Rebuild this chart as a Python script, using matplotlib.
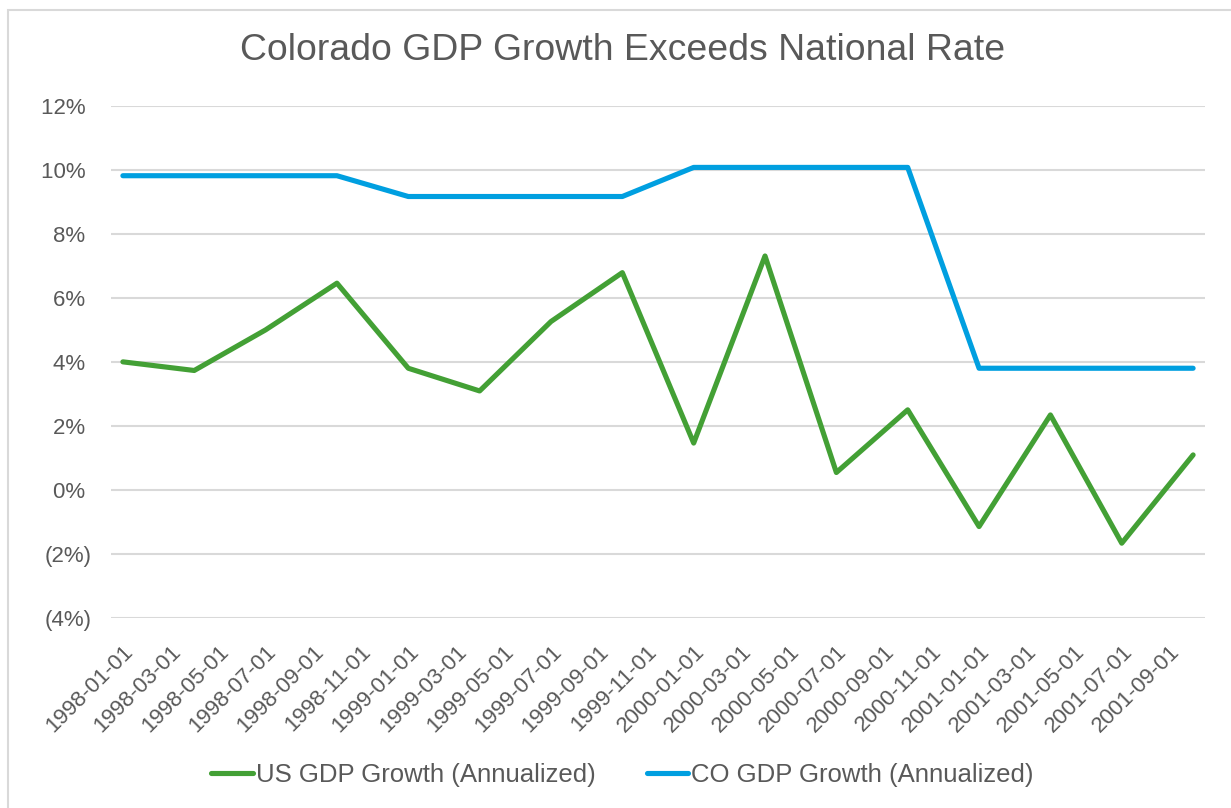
import matplotlib
matplotlib.use("Agg")
import matplotlib.pyplot as plt
from matplotlib.patches import Rectangle

plt.rcParams["font.family"] = ["Liberation Sans", "DejaVu Sans"]

# Monthly axis slots 1998-01 .. 2001-10; data are quarterly
months = [f"{y}-{m:02d}-01" for y in range(1998, 2002) for m in range(1, 13)][:46]
tick_labels = months[::2]
quarters = ["1998-01-01", "1998-04-01", "1998-07-01", "1998-10-01",
            "1999-01-01", "1999-04-01", "1999-07-01", "1999-10-01",
            "2000-01-01", "2000-04-01", "2000-07-01", "2000-10-01",
            "2001-01-01", "2001-04-01", "2001-07-01", "2001-10-01"]
us_growth = [4.0, 3.73, 5.0, 6.46, 3.80, 3.09, 5.26, 6.79,
             1.46, 7.31, 0.54, 2.50, -1.15, 2.34, -1.67, 1.09]
co_growth = [9.82, 9.82, 9.82, 9.82, 9.17, 9.17, 9.17, 9.17,
             10.08, 10.08, 10.08, 10.08, 3.80, 3.80, 3.80, 3.80]
y_ticks = [-4, -2, 0, 2, 4, 6, 8, 10, 12]

GREEN = "#43A035"
BLUE = "#009FE0"
TEXT = "#595959"
GRID = "#D9D9D9"

W, H = 1231, 808
fig = plt.figure(figsize=(W / 100, H / 100), dpi=100)

# chart-area frame
fig.patches.append(Rectangle((8 / W, -0.1), 1.2, 1 - 10 / H + 0.1,
                             transform=fig.transFigure, fill=False,
                             edgecolor=GRID, linewidth=1.5))

left, right, top, bottom = 111, 1205, 106, 617.7
ax = fig.add_axes([left / W, 1 - bottom / H, (right - left) / W, (bottom - top) / H])

x_idx = [months.index(q) for q in quarters]
ax.plot(x_idx, us_growth, color=GREEN, lw=3.7, solid_capstyle="round",
        solid_joinstyle="round", label="US GDP Growth (Annualized)", zorder=3)
ax.plot(x_idx, co_growth, color=BLUE, lw=3.7, solid_capstyle="round",
        solid_joinstyle="round", label="CO GDP Growth (Annualized)", zorder=3)

ax.set_xlim(-0.5, len(months) - 0.5)
ax.set_ylim(-4, 12)
ax.set_yticks(y_ticks)
ax.set_yticklabels([f"{v}% " if v >= 0 else f"({-v}%)" for v in y_ticks])
ax.set_xticks(range(0, len(months), 2))
ax.set_xticklabels(tick_labels, rotation=45, ha="right", va="top",
                   rotation_mode="anchor")

for s in ax.spines.values():
    s.set_visible(False)
ax.grid(axis="y", color=GRID, lw=1.5, zorder=0)
ax.tick_params(axis="y", length=0, pad=14, labelsize=16, labelcolor=TEXT)
ax.tick_params(axis="x", length=0, pad=17, labelsize=16, labelcolor=TEXT)

fig.text(623 / W, 1 - 51 / H, "Colorado GDP Growth Exceeds National Rate",
         ha="center", va="center", fontsize=26.9, color=TEXT)

leg = fig.legend(loc="center", bbox_to_anchor=(622.5 / W, 1 - 775 / H), ncol=2,
                 frameon=False, fontsize=18.5, handlelength=1.6,
                 handletextpad=0.12, columnspacing=2.0)
for t in leg.get_texts():
    t.set_color(TEXT)

fig.savefig("out.png", dpi=100, facecolor="white")
